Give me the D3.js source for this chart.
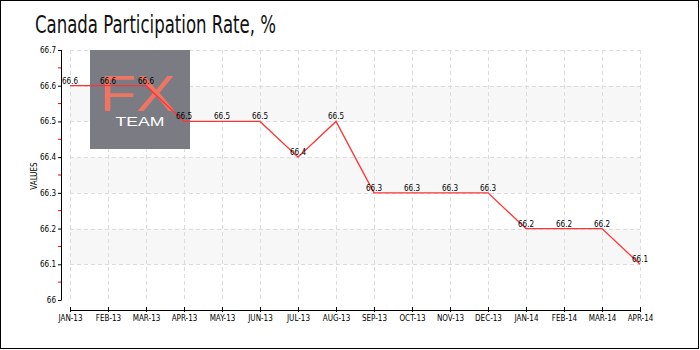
<!DOCTYPE html>
<html><head><meta charset="utf-8">
<script src="https://cdn.jsdelivr.net/npm/d3@7/dist/d3.min.js"></script>
<style>body{margin:0;background:#fff}svg{display:block}</style>
</head><body>
<svg id="c" width="700" height="350"></svg>
<script>
const months = ["JAN-13","FEB-13","MAR-13","APR-13","MAY-13","JUN-13","JUL-13","AUG-13","SEP-13","OCT-13","NOV-13","DEC-13","JAN-14","FEB-14","MAR-14","APR-14"];
const values = [66.6,66.6,66.6,66.5,66.5,66.5,66.4,66.5,66.3,66.3,66.3,66.3,66.2,66.2,66.2,66.1];
const yTicks = [66,66.1,66.2,66.3,66.4,66.5,66.6,66.7];
const yMinor = [66.05,66.15,66.25,66.35,66.45,66.55,66.65];
const title = "Canada Participation Rate, %";
const yLabel = "VALUES";

const svg = d3.select("#c");
const x = d3.scalePoint().domain(months).range([70,640]);
const y = d3.scaleLinear().domain([66,66.7]).range([300,50]);
const small = "'DejaVu Sans Condensed', 'DejaVu Sans', sans-serif";

svg.append("rect").attr("x",0.5).attr("y",0.5).attr("width",698).attr("height",348)
  .attr("fill","#fff").attr("stroke","#000").attr("stroke-width",1);

svg.append("text").attr("x",35).attr("y",33).text(title)
  .attr("font-family","'Liberation Sans Narrow', 'DejaVu Sans Condensed', sans-serif")
  .attr("font-size",24).attr("fill","#111").attr("textLength",241).attr("lengthAdjust","spacingAndGlyphs");

// bands
const bands = [[66.5,66.6],[66.3,66.4],[66.1,66.2]];
svg.append("g").selectAll("rect").data(bands).join("rect")
  .attr("x",70).attr("width",570)
  .attr("y",d=>y(d[1])).attr("height",d=>y(d[0])-y(d[1]))
  .attr("fill","#f7f7f7");

// grid
const grid = svg.append("g").attr("stroke","#dcdcdc").attr("stroke-dasharray","4,3").attr("stroke-width",1);
grid.selectAll("line.h").data(yTicks.slice(1)).join("line").attr("class","h")
  .attr("x1",70).attr("x2",640).attr("y1",d=>Math.round(y(d))+0.5).attr("y2",d=>Math.round(y(d))+0.5);
grid.selectAll("line.v").data(months).join("line").attr("class","v")
  .attr("y1",50).attr("y2",300).attr("x1",d=>Math.round(x(d))+0.5).attr("x2",d=>Math.round(x(d))+0.5);

// watermark
const wm = svg.append("g");
wm.append("rect").attr("x",90).attr("y",50).attr("width",100).attr("height",99).attr("fill","#7b7b83");
wm.append("text").attr("x",138).attr("y",111).attr("text-anchor","middle")
  .attr("font-family","'Liberation Sans', sans-serif").attr("font-size",50).attr("fill","#ee7463")
  .attr("textLength",76).attr("lengthAdjust","spacingAndGlyphs").text("FX");
wm.append("text").attr("x",140).attr("y",126).attr("text-anchor","middle")
  .attr("font-family","'Liberation Sans', sans-serif").attr("font-size",13).attr("fill","#fff")
  .attr("textLength",49).attr("lengthAdjust","spacingAndGlyphs").text("TEAM");

// y axis
const ya = svg.append("g").attr("transform","translate(61,0)")
  .call(d3.axisLeft(y).tickValues(yTicks).tickSize(3).tickFormat(d=>d3.format("~g")(d)));
ya.select(".domain").attr("stroke","#000").attr("d","M0.5,50V300.5");
ya.selectAll(".tick line").attr("stroke","#000");
ya.selectAll("text").attr("font-family",small).attr("font-size",8).attr("fill","#000").attr("x",-5);
svg.append("g").selectAll("line").data(yMinor).join("line")
  .attr("x1",58).attr("x2",61).attr("y1",d=>y(d)).attr("y2",d=>y(d)).attr("stroke","#e00");

svg.append("text").attr("transform","translate(37,176) rotate(-90)").attr("text-anchor","middle")
  .attr("font-family",small).attr("font-size",8).attr("fill","#000").text(yLabel);

// x axis
const xa = svg.append("g").attr("transform","translate(0,310)")
  .call(d3.axisBottom(x).tickSize(3).tickSizeOuter(0));
xa.select(".domain").attr("stroke","#000");
xa.selectAll(".tick line").attr("y1",-3).attr("y2",2).attr("stroke","#000");
xa.selectAll("text").attr("font-family",small).attr("font-size",8).attr("fill","#000").attr("y",5);

// line
const pts = months.map((m,i)=>({m,v:values[i]}));
svg.append("path").datum(pts)
  .attr("d",d3.line().x(d=>x(d.m)).y(d=>y(d.v)))
  .attr("fill","none").attr("stroke","#f33").attr("stroke-width",1.3);

svg.append("g").selectAll("text").data(pts).join("text")
  .attr("x",d=>x(d.m)).attr("y",d=>y(d.v)-2).attr("text-anchor","middle")
  .attr("font-family",small).attr("font-size",8).attr("fill","#000")
  .text(d=>d3.format(".1f")(d.v));
</script>
</body></html>
